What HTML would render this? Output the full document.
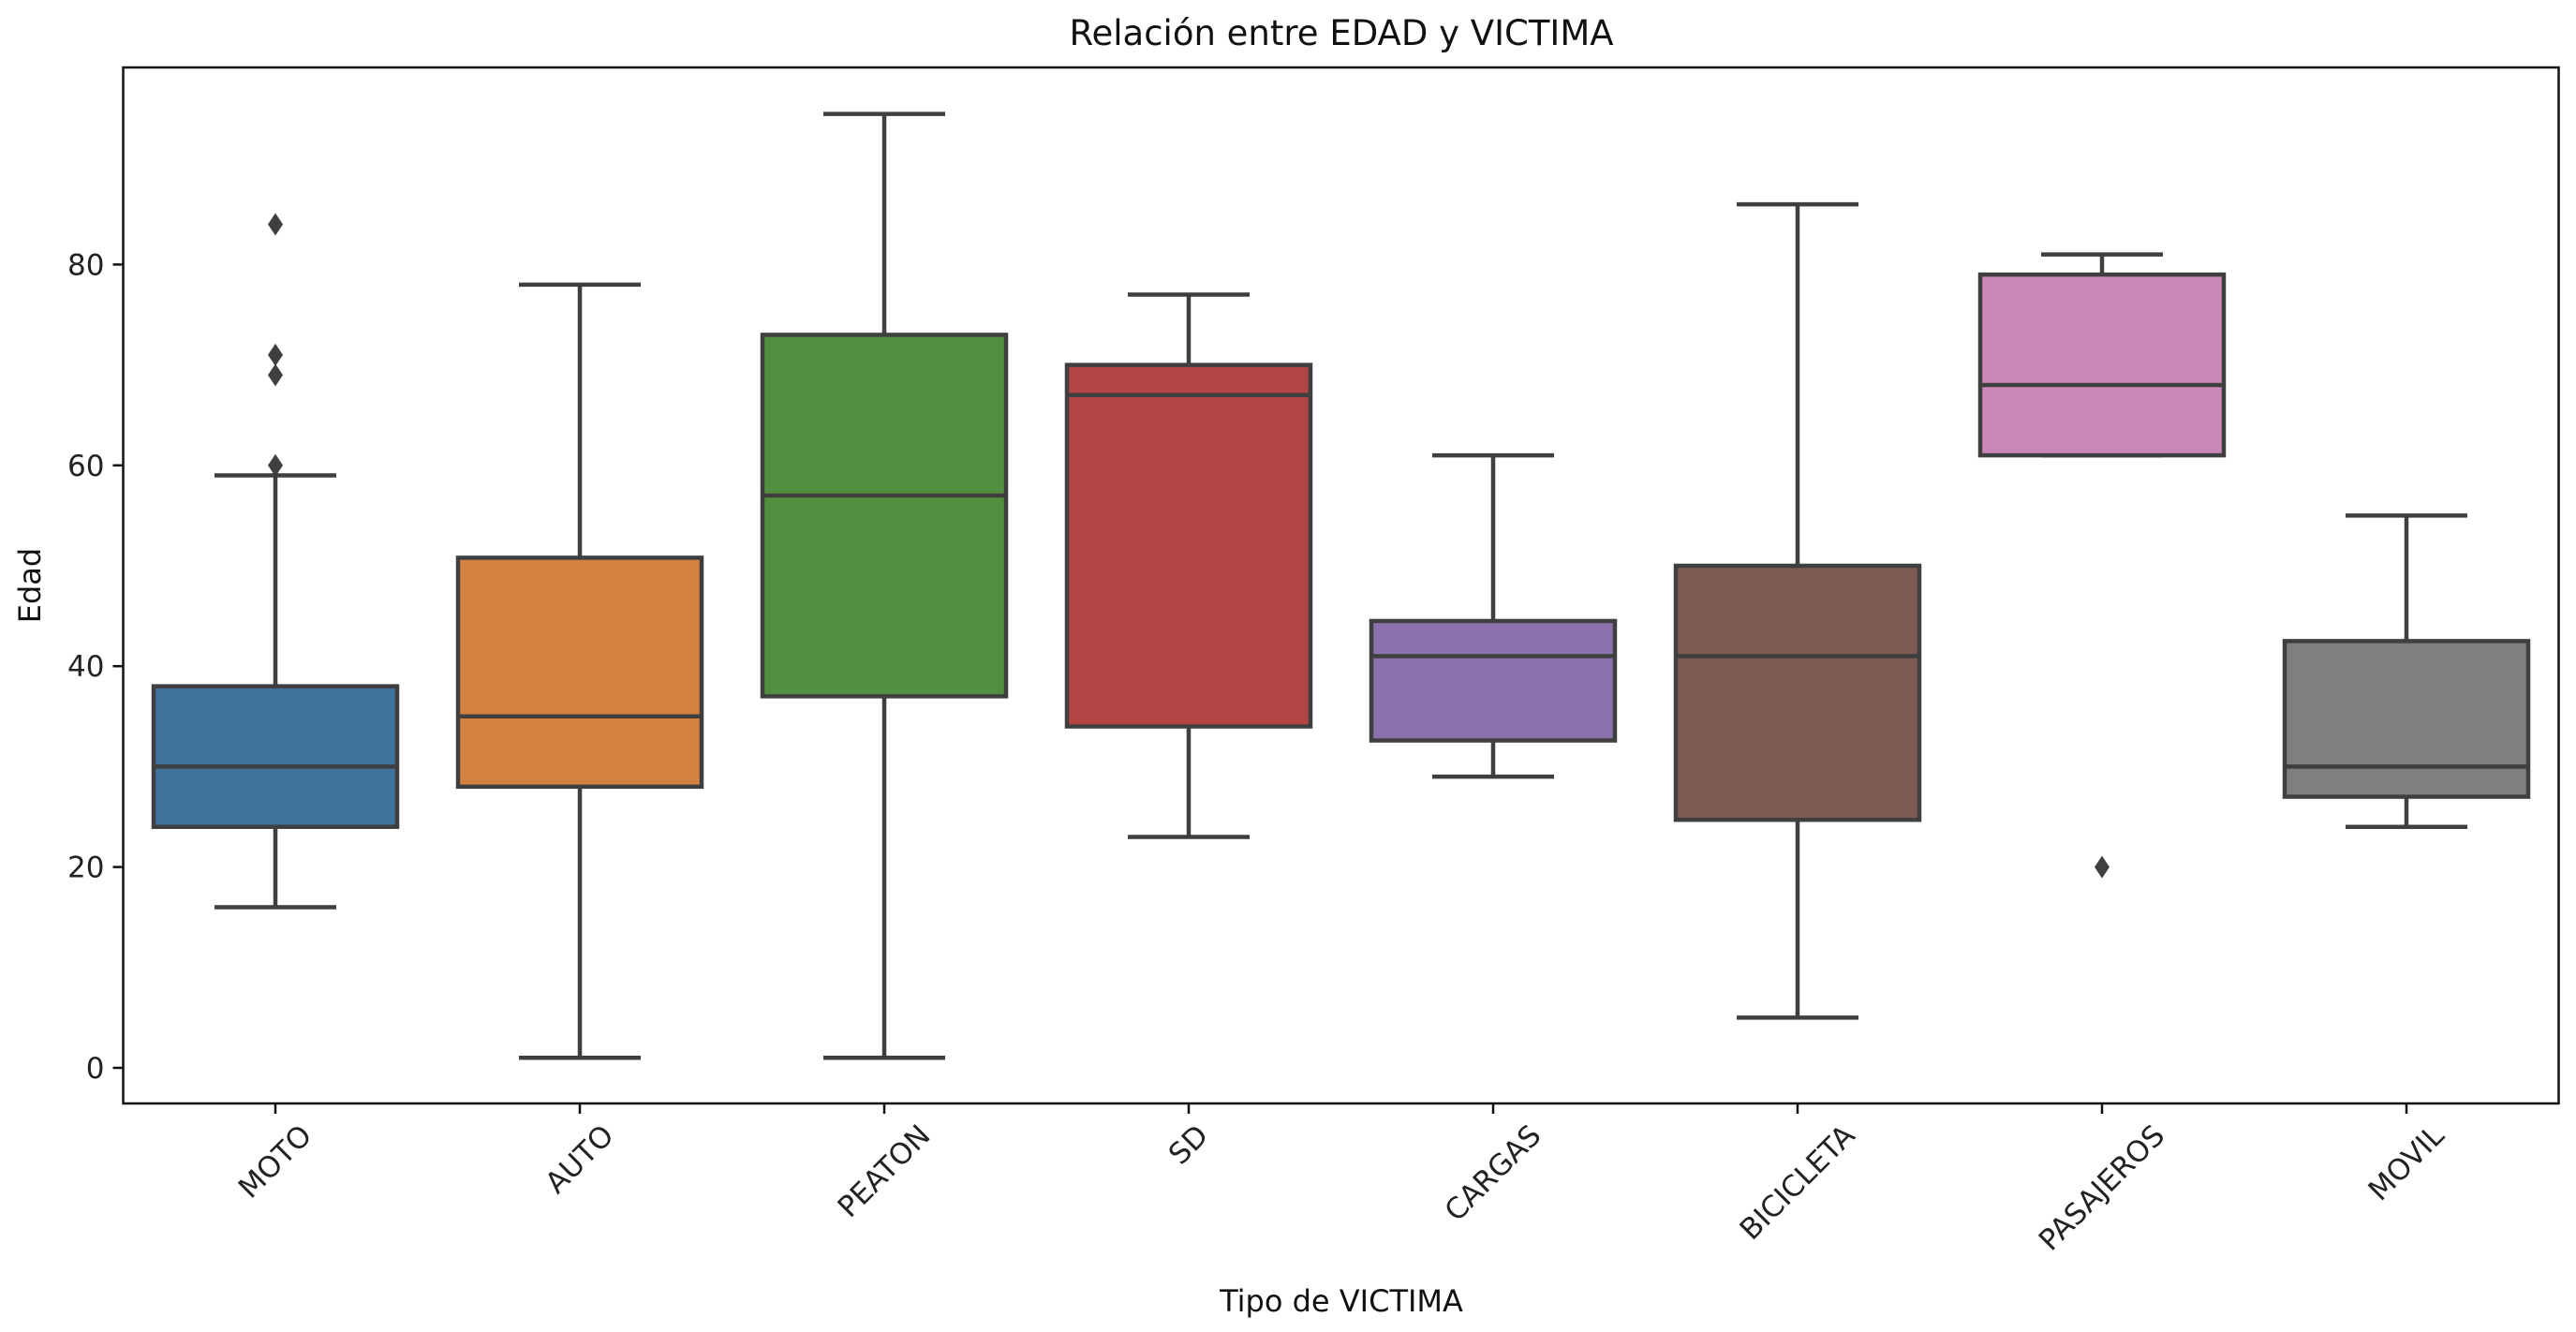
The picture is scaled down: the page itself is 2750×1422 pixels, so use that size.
<!DOCTYPE html>
<html><head><meta charset="utf-8"><style>
html,body{margin:0;padding:0;background:#fff}
svg{display:block;font-family:"DejaVu Sans","Liberation Sans",sans-serif}
</style></head><body>
<svg id="chart" width="2750" height="1422" viewBox="0 0 2750 1422" xmlns="http://www.w3.org/2000/svg">
<rect width="2750" height="1422" fill="#fff"/>
<text x="1432" y="48" font-size="37" text-anchor="middle" fill="#111">Relación entre EDAD y VICTIMA</text>
<text x="1432" y="1400" font-size="32" text-anchor="middle" fill="#111">Tipo de VICTIMA</text>
<text transform="translate(43,625) rotate(-90)" font-size="32" text-anchor="middle" fill="#111">Edad</text>
<g id="plot"></g>
<rect x="131.5" y="72" width="2600" height="1106" fill="none" stroke="#111" stroke-width="2.5"/>
</svg>
<script>
const categories = ["MOTO","AUTO","PEATON","SD","CARGAS","BICICLETA","PASAJEROS","MOVIL"];
const whiskerLow = [16, 1, 1, 23, 29, 5, 61, 24];
const q1 = [24, 28, 37, 34, 32.6, 24.7, 61, 27];
const median = [30, 35, 57, 67, 41, 41, 68, 30];
const q3 = [38, 50.8, 73, 70, 44.5, 50, 79, 42.5];
const whiskerHigh = [59, 78, 95, 77, 61, 86, 81, 55];
const outliers = [[60, 69, 71, 84], [], [], [], [], [], [20], []];
const colors = ["#41729e","#d48242","#52903f","#b14644","#8b72ad","#7d5b52","#cb87b9","#7f7f7f"];
const yTicks = [0, 20, 40, 60, 80];

const NS = "http://www.w3.org/2000/svg";
const L = 131.5, R = 2731.5, T = 72, B = 1178;
const y = v => 1140 - (v / 20) * 214.4;
const band = (R - L) / categories.length;
const x = i => L + band * (i + 0.5);
const g = document.getElementById('plot');
function mk(tag, attrs, parent) {
  const e = document.createElementNS(NS, tag);
  for (const k in attrs) e.setAttribute(k, attrs[k]);
  (parent || g).appendChild(e);
  return e;
}
const LC = "#3f3f3f", LW = 4.5;
yTicks.forEach(v => {
  const t = mk('line', {x1: L - 11, x2: L, y1: y(v), y2: y(v), stroke: "#111", "stroke-width": 2.5});
  
  
  const lab = mk('text', {x: L - 20, y: y(v) + 11, "font-size": 31, "text-anchor": "end", fill: "#222"});
  lab.textContent = v;
  
  
});
const bw = band * 0.8;
categories.forEach((c, i) => {
  const cx = x(i);
  const grp = mk('g', {});
  
  
  const a = {stroke: LC, "stroke-width": LW};
  mk('line', Object.assign({x1: cx, x2: cx, y1: y(q1[i]), y2: y(whiskerLow[i])}, a), grp);
  mk('line', Object.assign({x1: cx, x2: cx, y1: y(q3[i]), y2: y(whiskerHigh[i])}, a), grp);
  mk('line', Object.assign({x1: cx - bw/4, x2: cx + bw/4, y1: y(whiskerLow[i]), y2: y(whiskerLow[i])}, a), grp);
  mk('line', Object.assign({x1: cx - bw/4, x2: cx + bw/4, y1: y(whiskerHigh[i]), y2: y(whiskerHigh[i])}, a), grp);
  mk('rect', Object.assign({x: cx - bw/2, y: y(q3[i]), width: bw, height: y(q1[i]) - y(q3[i]), fill: colors[i]}, a), grp);
  mk('line', Object.assign({x1: cx - bw/2, x2: cx + bw/2, y1: y(median[i]), y2: y(median[i])}, a), grp);
  outliers[i].forEach(v => {
    const yy = y(v);
    const d = mk('polygon', {points: `${cx},${yy-12} ${cx+8},${yy} ${cx},${yy+12} ${cx-8},${yy}`, fill: LC}, grp);
    
    
  });
  const tk = mk('line', {x1: cx, x2: cx, y1: B, y2: B + 11, stroke: "#111", "stroke-width": 2.5});
  
  
  const lab = mk('text', {x: 0, y: 0, "font-size": 31, "text-anchor": "middle", "dominant-baseline": "central", fill: "#222"});
  lab.textContent = c;
  
  
  const w = lab.getComputedTextLength();
  const h = 31;
  const bh = (w + h) / Math.SQRT2;
  lab.setAttribute('transform', `translate(${cx},${B + 18 + bh/2}) rotate(-45)`);
});
</script>
</body></html>
